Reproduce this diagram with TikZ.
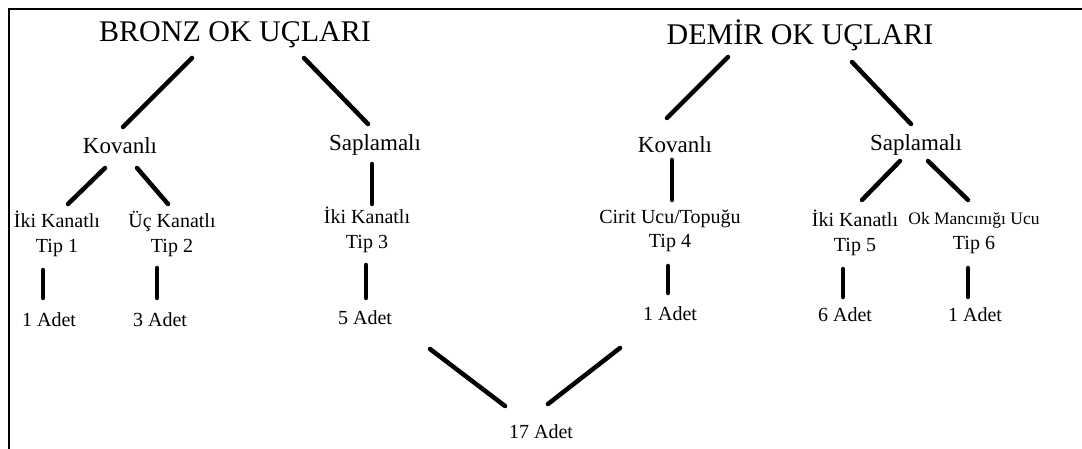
\documentclass[tikz,border=0pt]{standalone}
\usepackage{fontspec}
\setmainfont{Liberation Serif}
\usepackage{tikz}

\begin{document}
\begin{tikzpicture}[x=1pt, y=-1pt,
                heading/.style={inner sep=0pt, font=\fontsize{30}{34}\selectfont},
                branch/.style={inner sep=0pt, font=\fontsize{23}{26}\selectfont},
                leaf/.style={inner sep=0pt, align=center, font=\fontsize{20}{24.5}\selectfont},
                link/.style={line width=4.5pt, line cap=round}]

                \useasboundingbox (0,0) rectangle (1082,449);

                % frame, only top and left edges
                \draw[line width=2.5pt] (1082,9) -- (9,9) -- (9,449);

                % the two headings
                \node[heading] (bronz) at (235,35) {BRONZ OK UÇLARI};
                \node[heading] (demir) at (800,35) {DEMİR OK UÇLARI};

                % bronze side
                \node[branch] (bkov) at (120,146) {Kovanlı};
                \node[branch] (bsap) at (375,145) {Saplamalı};
                \node[leaf] (tip1) at (57,234) {İki Kanatlı\\Tip 1};
                \node[leaf] (tip2) at (172,234) {Üç Kanatlı\\Tip 2};
                \node[leaf] (tip3) at (367,230) {İki Kanatlı\\Tip 3};
                \node[leaf] (adet1) at (49,320) {1 Adet};
                \node[leaf] (adet2) at (160,320) {3 Adet};
                \node[leaf] (adet3) at (365,318) {5 Adet};

                % iron side
                \node[branch] (dkov) at (675,145) {Kovanlı};
                \node[branch] (dsap) at (916,145) {Saplamalı};
                \node[leaf] (tip4) at (670,231) {Cirit Ucu/Topuğu\\Tip 4};
                \node[leaf] (tip5) at (855,233) {İki Kanatlı\\Tip 5};
                \node[leaf] (tip6) at (974,233) {{\fontsize{17.5}{20}\selectfont Ok Mancınığı Ucu}\\Tip 6};
                \node[leaf] (adet4) at (670,314) {1 Adet};
                \node[leaf] (adet5) at (845,315) {6 Adet};
                \node[leaf] (adet6) at (975,315) {1 Adet};

                % total
                \node[leaf] (total) at (541,432) {17 Adet};

                % bronze links
                \draw[link] ([shift={(-43,23)}]bronz.center) -- ([shift={(3,-19)}]bkov.center);
                \draw[link] ([shift={(69,23)}]bronz.center) -- ([shift={(-7,-21)}]bsap.center);
                \draw[link] ([shift={(-15,22)}]bkov.center) -- ([shift={(11,-30)}]tip1.center);
                \draw[link] ([shift={(17,22)}]bkov.center) -- ([shift={(-4,-30)}]tip2.center);
                \draw[link] ([shift={(-3,19)}]bsap.center) -- ([shift={(5,-26)}]tip3.center);
                \draw[link] ([shift={(-14,36)}]tip1.center) -- ([shift={(-6,-22)}]adet1.center);
                \draw[link] ([shift={(-15,34)}]tip2.center) -- ([shift={(-3,-22)}]adet2.center);
                \draw[link] ([shift={(-1,35)}]tip3.center) -- ([shift={(1,-20)}]adet3.center);

                % iron links
                \draw[link] ([shift={(-72,22)}]demir.center) -- ([shift={(-8,-27)}]dkov.center);
                \draw[link] ([shift={(52,27)}]demir.center) -- ([shift={(-5,-21)}]dsap.center);
                \draw[link] ([shift={(-3,15)}]dkov.center) -- ([shift={(2,-31)}]tip4.center);
                \draw[link] ([shift={(-16,16)}]dsap.center) -- ([shift={(7,-33)}]tip5.center);
                \draw[link] ([shift={(12,16)}]dsap.center) -- ([shift={(-6,-33)}]tip6.center);
                \draw[link] ([shift={(-2,35)}]tip4.center) -- ([shift={(-2,-21)}]adet4.center);
                \draw[link] ([shift={(-12,36)}]tip5.center) -- ([shift={(-2,-18)}]adet5.center);
                \draw[link] ([shift={(-6,35)}]tip6.center) -- ([shift={(-7,-18)}]adet6.center);

                % both sides into the total
                \draw[link] ([shift={(65,31)}]adet3.center) -- ([shift={(-36,-26)}]total.center);
                \draw[link] ([shift={(-50,34)}]adet4.center) -- ([shift={(7,-28)}]total.center);
\end{tikzpicture}
\end{document}
